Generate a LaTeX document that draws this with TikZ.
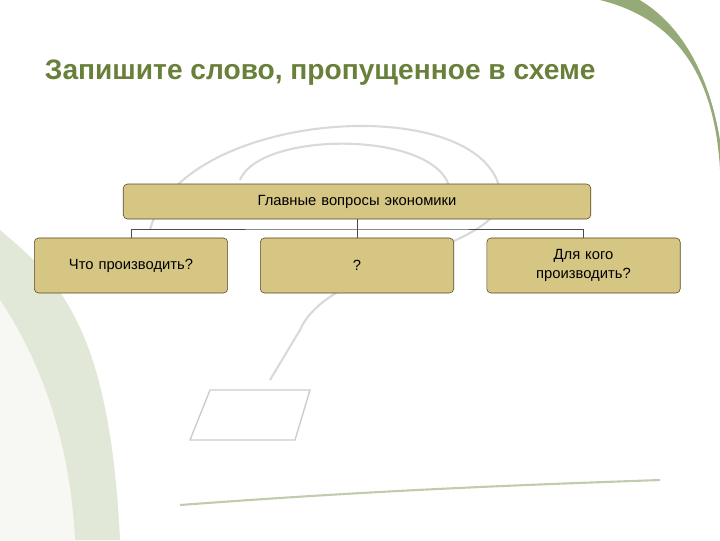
\documentclass[tikz,border=0pt]{standalone}
\usepackage{fontspec}
\setmainfont{Liberation Sans}
\definecolor{titlegreen}{RGB}{105,128,58}
\definecolor{boxfill}{RGB}{214,198,132}
\definecolor{boxline}{RGB}{90,70,30}
\definecolor{leafgreen}{RGB}{150,170,120}
\definecolor{palegreen}{RGB}{225,232,215}
\begin{document}
\begin{tikzpicture}[x=0.025cm,y=-0.025cm,
  qbox/.style={draw=boxline, fill=boxfill, rounded corners=3pt, minimum height=1.375cm, text width=4.6cm, align=center, font=\fontsize{10.5}{13}\selectfont},
  link/.style={draw=black!70, line width=0.5pt}]
\useasboundingbox (0,0) rectangle (720,540);
% background
\fill[leafgreen] (600,0) .. controls (680,20) and (715,80) .. (720,170) -- (720,0) -- cycle;
\fill[white] (640,0) .. controls (690,30) and (712,90) .. (720,140) -- (720,0) -- cycle;
\fill[palegreen] (0,230) .. controls (60,280) and (110,330) .. (120,540) -- (0,540) -- cycle;
\fill[white!92!leafgreen] (0,300) .. controls (40,360) and (70,440) .. (75,540) -- (0,540) -- cycle;
\draw[black!15, line width=1.5pt] (150,230) .. controls (180,110) and (480,90) .. (500,190) .. controls (515,250) and (330,260) .. (300,330) -- (270,380);
\draw[black!15, line width=1.5pt] (240,180) .. controls (260,130) and (440,130) .. (450,190);
\draw[black!20, line width=1pt] (210,390) -- (310,390) -- (295,440) -- (190,440) -- cycle;
\draw[leafgreen!60, line width=1.5pt] (180,505) .. controls (380,490) and (520,485) .. (660,480);
% title
\node[anchor=west, text=titlegreen, font=\bfseries\fontsize{20}{24}\selectfont] (title) at (40,73) {Запишите слово, пропущенное в схеме};
% boxes
\node[qbox, text width=11.45cm, minimum height=0.875cm] (main) at (357,201.5) {Главные вопросы экономики};
\node[qbox] (what) at (131,265.5) {Что производить?};
\node[qbox] (how) at (357,265.5) {?};
\node[qbox] (whom) at (583.5,265.5) {Для кого\\производить?};
% connectors
\coordinate (bus) at (357,229);
\draw[link] (main.south) -- (bus);
\draw[link] (what.north) |- (bus) -| (whom.north);
\draw[link] (bus) -- (how.north);
\end{tikzpicture}
\end{document}
